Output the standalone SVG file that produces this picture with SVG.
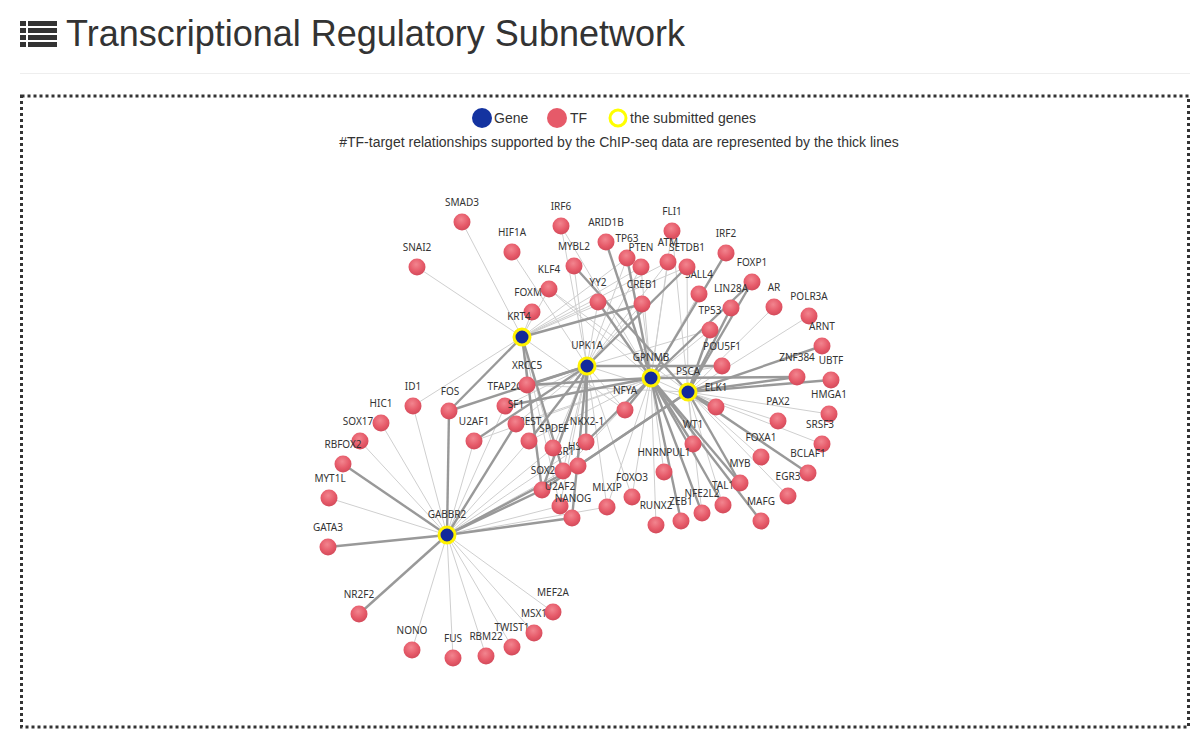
<svg xmlns="http://www.w3.org/2000/svg" width="1198" height="746" viewBox="0 0 1198 746">
<style>
.title{font-family:"Liberation Sans",Arial,sans-serif;font-size:36px;fill:#333}
.leg{font-family:"Liberation Sans",Arial,sans-serif;font-size:14px;fill:#333}
.n{stroke:#cfcfcf;stroke-width:1}
.k{stroke:#999;stroke-width:2.4}
.tf{fill:url(#tfg)}
.gene{fill:#13299b;stroke:#fff200;stroke-width:3}
.lb{font-family:"Noto Sans","Liberation Sans",Arial,sans-serif;font-size:10px;fill:#333;text-anchor:middle}
</style>
<defs>
<radialGradient id="tfg" cx="0.45" cy="0.35" r="0.68">
<stop offset="0" stop-color="#f2858f"/>
<stop offset="0.6" stop-color="#e65a69"/>
<stop offset="1" stop-color="#d04858"/>
</radialGradient>
</defs>
<rect width="1198" height="746" fill="#fff"/>
<g id="header">
<g fill="#333">
<rect x="20" y="21" width="6" height="5"/><rect x="28" y="21" width="29" height="5"/>
<rect x="20" y="28" width="6" height="5"/><rect x="28" y="28" width="29" height="5"/>
<rect x="20" y="35" width="6" height="5"/><rect x="28" y="35" width="29" height="5"/>
<rect x="20" y="42" width="6" height="5"/><rect x="28" y="42" width="29" height="5"/>
</g>
<text class="title" x="66" y="46">Transcriptional Regulatory Subnetwork</text>
<line x1="20" y1="73.5" x2="1190" y2="73.5" stroke="#eee" stroke-width="1"/>
</g>
<rect x="21.5" y="96" width="1167" height="631" fill="none" stroke="#333" stroke-width="3" stroke-dasharray="3 3"/>
<g id="legend">
<circle cx="482" cy="118" r="10" fill="#1433a0"/>
<text class="leg" x="494" y="123">Gene</text>
<circle cx="557" cy="118" r="10" fill="#e65a69"/>
<text class="leg" x="570" y="123">TF</text>
<circle cx="618" cy="118" r="8" fill="#fff" stroke="#ffff00" stroke-width="3"/>
<text class="leg" x="630" y="123">the submitted genes</text>
<text class="leg" x="619" y="147" text-anchor="middle">#TF-target relationships supported by the ChIP-seq data are represented by the thick lines</text>
</g>
<g id="connectors">
<g class="thin">
<line class="n" x1="447" y1="535" x2="329" y2="498"/>
<line class="n" x1="447" y1="535" x2="360" y2="441"/>
<line class="n" x1="447" y1="535" x2="381" y2="423"/>
<line class="n" x1="447" y1="535" x2="413" y2="406"/>
<line class="n" x1="447" y1="535" x2="412" y2="650"/>
<line class="n" x1="447" y1="535" x2="453" y2="658"/>
<line class="n" x1="447" y1="535" x2="486" y2="656"/>
<line class="n" x1="447" y1="535" x2="512" y2="647"/>
<line class="n" x1="447" y1="535" x2="534" y2="633"/>
<line class="n" x1="447" y1="535" x2="553" y2="612"/>
<line class="n" x1="447" y1="535" x2="560" y2="506"/>
<line class="n" x1="447" y1="535" x2="563" y2="471"/>
<line class="n" x1="447" y1="535" x2="529" y2="441"/>
<line class="n" x1="447" y1="535" x2="505" y2="406"/>
<line class="n" x1="447" y1="535" x2="474" y2="441"/>
<line class="n" x1="447" y1="535" x2="553" y2="448"/>
<line class="n" x1="447" y1="535" x2="607" y2="507"/>
<line class="n" x1="447" y1="535" x2="586" y2="442"/>
<line class="n" x1="522" y1="337" x2="462" y2="222"/>
<line class="n" x1="522" y1="337" x2="417" y2="267"/>
<line class="n" x1="522" y1="337" x2="532" y2="312"/>
<line class="n" x1="522" y1="337" x2="413" y2="406"/>
<line class="n" x1="522" y1="337" x2="627" y2="258"/>
<line class="n" x1="522" y1="337" x2="641" y2="267"/>
<line class="n" x1="522" y1="337" x2="668" y2="262"/>
<line class="n" x1="522" y1="337" x2="687" y2="267"/>
<line class="n" x1="522" y1="337" x2="549" y2="289"/>
<line class="n" x1="522" y1="337" x2="598" y2="302"/>
<line class="n" x1="522" y1="337" x2="553" y2="448"/>
<line class="n" x1="522" y1="337" x2="527" y2="385"/>
<line class="n" x1="522" y1="337" x2="625" y2="410"/>
<line class="n" x1="522" y1="337" x2="560" y2="506"/>
<line class="n" x1="587" y1="366" x2="512" y2="252"/>
<line class="n" x1="587" y1="366" x2="561" y2="226"/>
<line class="n" x1="587" y1="366" x2="574" y2="266"/>
<line class="n" x1="587" y1="366" x2="578" y2="466"/>
<line class="n" x1="587" y1="366" x2="516" y2="424"/>
<line class="n" x1="587" y1="366" x2="563" y2="471"/>
<line class="n" x1="587" y1="366" x2="560" y2="506"/>
<line class="n" x1="587" y1="366" x2="627" y2="258"/>
<line class="n" x1="587" y1="366" x2="641" y2="267"/>
<line class="n" x1="587" y1="366" x2="668" y2="262"/>
<line class="n" x1="587" y1="366" x2="632" y2="497"/>
<line class="n" x1="587" y1="366" x2="607" y2="507"/>
<line class="n" x1="587" y1="366" x2="505" y2="406"/>
<line class="n" x1="587" y1="366" x2="625" y2="410"/>
<line class="n" x1="587" y1="366" x2="716" y2="407"/>
<line class="n" x1="587" y1="366" x2="710" y2="330"/>
<line class="n" x1="587" y1="366" x2="642" y2="304"/>
<line class="n" x1="587" y1="366" x2="553" y2="448"/>
<line class="n" x1="587" y1="366" x2="598" y2="302"/>
<line class="n" x1="651" y1="378" x2="710" y2="330"/>
<line class="n" x1="651" y1="378" x2="664" y2="472"/>
<line class="n" x1="651" y1="378" x2="656" y2="525"/>
<line class="n" x1="651" y1="378" x2="632" y2="497"/>
<line class="n" x1="651" y1="378" x2="607" y2="507"/>
<line class="n" x1="651" y1="378" x2="516" y2="424"/>
<line class="n" x1="651" y1="378" x2="529" y2="441"/>
<line class="n" x1="651" y1="378" x2="563" y2="471"/>
<line class="n" x1="651" y1="378" x2="641" y2="267"/>
<line class="n" x1="651" y1="378" x2="668" y2="262"/>
<line class="n" x1="651" y1="378" x2="672" y2="231"/>
<line class="n" x1="651" y1="378" x2="561" y2="226"/>
<line class="n" x1="651" y1="378" x2="642" y2="304"/>
<line class="n" x1="651" y1="378" x2="722" y2="366"/>
<line class="n" x1="651" y1="378" x2="716" y2="407"/>
<line class="n" x1="651" y1="378" x2="549" y2="289"/>
<line class="n" x1="651" y1="378" x2="474" y2="441"/>
<line class="n" x1="651" y1="378" x2="699" y2="294"/>
<line class="n" x1="688" y1="392" x2="549" y2="289"/>
<line class="n" x1="688" y1="392" x2="774" y2="307"/>
<line class="n" x1="688" y1="392" x2="809" y2="316"/>
<line class="n" x1="688" y1="392" x2="829" y2="414"/>
<line class="n" x1="688" y1="392" x2="778" y2="421"/>
<line class="n" x1="688" y1="392" x2="822" y2="444"/>
<line class="n" x1="688" y1="392" x2="693" y2="444"/>
<line class="n" x1="688" y1="392" x2="761" y2="457"/>
<line class="n" x1="688" y1="392" x2="788" y2="496"/>
<line class="n" x1="688" y1="392" x2="687" y2="267"/>
<line class="n" x1="688" y1="392" x2="723" y2="505"/>
<line class="n" x1="688" y1="392" x2="702" y2="513"/>
<line class="n" x1="688" y1="392" x2="672" y2="231"/>
<line class="n" x1="688" y1="392" x2="527" y2="385"/>
</g>
<g class="thick">
<line class="k" x1="447" y1="535" x2="328" y2="547"/>
<line class="k" x1="447" y1="535" x2="343" y2="464"/>
<line class="k" x1="447" y1="535" x2="449" y2="411"/>
<line class="k" x1="447" y1="535" x2="359" y2="614"/>
<line class="k" x1="447" y1="535" x2="572" y2="518"/>
<line class="k" x1="447" y1="535" x2="542" y2="490"/>
<line class="k" x1="447" y1="535" x2="578" y2="466"/>
<line class="k" x1="447" y1="535" x2="516" y2="424"/>
<line class="k" x1="522" y1="337" x2="449" y2="411"/>
<line class="k" x1="522" y1="337" x2="642" y2="304"/>
<line class="k" x1="522" y1="337" x2="563" y2="471"/>
<line class="k" x1="522" y1="337" x2="542" y2="490"/>
<line class="k" x1="587" y1="366" x2="687" y2="267"/>
<line class="k" x1="587" y1="366" x2="527" y2="385"/>
<line class="k" x1="587" y1="366" x2="722" y2="366"/>
<line class="k" x1="587" y1="366" x2="586" y2="442"/>
<line class="k" x1="587" y1="366" x2="572" y2="518"/>
<line class="k" x1="587" y1="366" x2="449" y2="411"/>
<line class="k" x1="587" y1="366" x2="474" y2="441"/>
<line class="k" x1="587" y1="366" x2="529" y2="441"/>
<line class="k" x1="587" y1="366" x2="542" y2="490"/>
<line class="k" x1="651" y1="378" x2="606" y2="242"/>
<line class="k" x1="651" y1="378" x2="598" y2="302"/>
<line class="k" x1="651" y1="378" x2="726" y2="253"/>
<line class="k" x1="651" y1="378" x2="752" y2="282"/>
<line class="k" x1="651" y1="378" x2="797" y2="377"/>
<line class="k" x1="651" y1="378" x2="625" y2="410"/>
<line class="k" x1="651" y1="378" x2="693" y2="444"/>
<line class="k" x1="651" y1="378" x2="681" y2="521"/>
<line class="k" x1="651" y1="378" x2="702" y2="513"/>
<line class="k" x1="651" y1="378" x2="723" y2="505"/>
<line class="k" x1="651" y1="378" x2="761" y2="521"/>
<line class="k" x1="651" y1="378" x2="740" y2="483"/>
<line class="k" x1="651" y1="378" x2="586" y2="442"/>
<line class="k" x1="651" y1="378" x2="505" y2="406"/>
<line class="k" x1="651" y1="378" x2="527" y2="385"/>
<line class="k" x1="651" y1="378" x2="627" y2="258"/>
<line class="k" x1="688" y1="392" x2="574" y2="266"/>
<line class="k" x1="688" y1="392" x2="752" y2="282"/>
<line class="k" x1="688" y1="392" x2="731" y2="308"/>
<line class="k" x1="688" y1="392" x2="822" y2="346"/>
<line class="k" x1="688" y1="392" x2="797" y2="377"/>
<line class="k" x1="688" y1="392" x2="831" y2="380"/>
<line class="k" x1="688" y1="392" x2="716" y2="407"/>
<line class="k" x1="688" y1="392" x2="808" y2="473"/>
<line class="k" x1="688" y1="392" x2="740" y2="483"/>
<line class="k" x1="688" y1="392" x2="578" y2="466"/>
<line class="k" x1="688" y1="392" x2="542" y2="490"/>
<line class="k" x1="688" y1="392" x2="710" y2="330"/>
</g>
</g>
<g id="nodes">
<g id="n-SMAD3"><circle class="tf" cx="462" cy="222" r="8.5"/><text class="lb" x="462" y="206">SMAD3</text></g>
<g id="n-SNAI2"><circle class="tf" cx="417" cy="267" r="8.5"/><text class="lb" x="417" y="251">SNAI2</text></g>
<g id="n-HIF1A"><circle class="tf" cx="512" cy="252" r="8.5"/><text class="lb" x="512" y="236">HIF1A</text></g>
<g id="n-IRF6"><circle class="tf" cx="561" cy="226" r="8.5"/><text class="lb" x="561" y="210">IRF6</text></g>
<g id="n-ARID1B"><circle class="tf" cx="606" cy="242" r="8.5"/><text class="lb" x="606" y="226">ARID1B</text></g>
<g id="n-MYBL2"><circle class="tf" cx="574" cy="266" r="8.5"/><text class="lb" x="574" y="250">MYBL2</text></g>
<g id="n-FOXM1"><circle class="tf" cx="532" cy="312" r="8.5"/><text class="lb" x="531" y="296">FOXM1</text></g>
<g id="n-KLF4"><circle class="tf" cx="549" cy="289" r="8.5"/><text class="lb" x="549" y="273">KLF4</text></g>
<g id="n-YY2"><circle class="tf" cx="598" cy="302" r="8.5"/><text class="lb" x="598" y="286">YY2</text></g>
<g id="n-FLI1"><circle class="tf" cx="672" cy="231" r="8.5"/><text class="lb" x="672" y="215">FLI1</text></g>
<g id="n-TP63"><circle class="tf" cx="627" cy="258" r="8.5"/><text class="lb" x="627" y="242">TP63</text></g>
<g id="n-PTEN"><circle class="tf" cx="641" cy="267" r="8.5"/><text class="lb" x="641" y="251">PTEN</text></g>
<g id="n-ATM"><circle class="tf" cx="668" cy="262" r="8.5"/><text class="lb" x="668" y="246">ATM</text></g>
<g id="n-SALL4"><text class="lb" x="699" y="278">SALL4</text><circle class="tf" cx="699" cy="294" r="8.5"/></g>
<g id="n-SETDB1"><circle class="tf" cx="687" cy="267" r="8.5"/><text class="lb" x="687" y="251">SETDB1</text></g>
<g id="n-IRF2"><circle class="tf" cx="726" cy="253" r="8.5"/><text class="lb" x="726" y="237">IRF2</text></g>
<g id="n-CREB1"><circle class="tf" cx="642" cy="304" r="8.5"/><text class="lb" x="642" y="288">CREB1</text></g>
<g id="n-FOXP1"><circle class="tf" cx="752" cy="282" r="8.5"/><text class="lb" x="752" y="266">FOXP1</text></g>
<g id="n-LIN28A"><circle class="tf" cx="731" cy="308" r="8.5"/><text class="lb" x="731" y="292">LIN28A</text></g>
<g id="n-AR"><circle class="tf" cx="774" cy="307" r="8.5"/><text class="lb" x="774" y="291">AR</text></g>
<g id="n-POLR3A"><circle class="tf" cx="809" cy="316" r="8.5"/><text class="lb" x="809" y="300">POLR3A</text></g>
<g id="n-TP53"><circle class="tf" cx="710" cy="330" r="8.5"/><text class="lb" x="710" y="314">TP53</text></g>
<g id="n-ARNT"><circle class="tf" cx="822" cy="346" r="8.5"/><text class="lb" x="822" y="330">ARNT</text></g>
<g id="n-POU5F1"><circle class="tf" cx="722" cy="366" r="8.5"/><text class="lb" x="722" y="350">POU5F1</text></g>
<g id="n-ZNF384"><circle class="tf" cx="797" cy="377" r="8.5"/><text class="lb" x="797" y="361">ZNF384</text></g>
<g id="n-UBTF"><circle class="tf" cx="831" cy="380" r="8.5"/><text class="lb" x="831" y="364">UBTF</text></g>
<g id="n-HMGA1"><circle class="tf" cx="829" cy="414" r="8.5"/><text class="lb" x="829" y="398">HMGA1</text></g>
<g id="n-ELK1"><circle class="tf" cx="716" cy="407" r="8.5"/><text class="lb" x="716" y="391">ELK1</text></g>
<g id="n-PAX2"><circle class="tf" cx="778" cy="421" r="8.5"/><text class="lb" x="778" y="405">PAX2</text></g>
<g id="n-SRSF3"><circle class="tf" cx="822" cy="444" r="8.5"/><text class="lb" x="820" y="428">SRSF3</text></g>
<g id="n-WT1"><circle class="tf" cx="693" cy="444" r="8.5"/><text class="lb" x="693" y="428">WT1</text></g>
<g id="n-FOXA1"><circle class="tf" cx="761" cy="457" r="8.5"/><text class="lb" x="761" y="441">FOXA1</text></g>
<g id="n-BCLAF1"><circle class="tf" cx="808" cy="473" r="8.5"/><text class="lb" x="808" y="457">BCLAF1</text></g>
<g id="n-HNRNPUL1"><circle class="tf" cx="664" cy="472" r="8.5"/><text class="lb" x="664" y="456">HNRNPUL1</text></g>
<g id="n-TAL1"><text class="lb" x="723" y="489">TAL1</text><circle class="tf" cx="723" cy="505" r="8.5"/></g>
<g id="n-MYB"><circle class="tf" cx="740" cy="483" r="8.5"/><text class="lb" x="740" y="467">MYB</text></g>
<g id="n-EGR3"><circle class="tf" cx="788" cy="496" r="8.5"/><text class="lb" x="788" y="480">EGR3</text></g>
<g id="n-NFE2L2"><circle class="tf" cx="702" cy="513" r="8.5"/><text class="lb" x="702" y="497">NFE2L2</text></g>
<g id="n-MAFG"><circle class="tf" cx="761" cy="521" r="8.5"/><text class="lb" x="761" y="505">MAFG</text></g>
<g id="n-ZEB1"><text class="lb" x="681" y="505">ZEB1</text><circle class="tf" cx="681" cy="521" r="8.5"/></g>
<g id="n-RUNX2"><circle class="tf" cx="656" cy="525" r="8.5"/><text class="lb" x="656" y="509">RUNX2</text></g>
<g id="n-FOXO3"><circle class="tf" cx="632" cy="497" r="8.5"/><text class="lb" x="632" y="481">FOXO3</text></g>
<g id="n-MLXIP"><circle class="tf" cx="607" cy="507" r="8.5"/><text class="lb" x="607" y="491">MLXIP</text></g>
<g id="n-TFAP2C"><text class="lb" x="505" y="390">TFAP2C</text><circle class="tf" cx="505" cy="406" r="8.5"/></g>
<g id="n-XRCC5"><circle class="tf" cx="527" cy="385" r="8.5"/><text class="lb" x="527" y="369">XRCC5</text></g>
<g id="n-REST"><text class="lb" x="530" y="425">REST</text><circle class="tf" cx="529" cy="441" r="8.5"/></g>
<g id="n-SF1"><circle class="tf" cx="516" cy="424" r="8.5"/><text class="lb" x="516" y="408">SF1</text></g>
<g id="n-ESR1"><text class="lb" x="563" y="455">ESR1</text><circle class="tf" cx="563" cy="471" r="8.5"/></g>
<g id="n-SPDEF"><circle class="tf" cx="553" cy="448" r="8.5"/><text class="lb" x="554" y="432">SPDEF</text></g>
<g id="n-HSF1"><text class="lb" x="580" y="450">HSF1</text><circle class="tf" cx="578" cy="466" r="8.5"/></g>
<g id="n-NKX2-1"><circle class="tf" cx="586" cy="442" r="8.5"/><text class="lb" x="587" y="425">NKX2-1</text></g>
<g id="n-SOX2"><text class="lb" x="543" y="474">SOX2</text><circle class="tf" cx="542" cy="490" r="8.5"/></g>
<g id="n-U2AF2"><text class="lb" x="560" y="490">U2AF2</text><circle class="tf" cx="560" cy="506" r="8.5"/></g>
<g id="n-NANOG"><text class="lb" x="573" y="502">NANOG</text><circle class="tf" cx="572" cy="518" r="8.5"/></g>
<g id="n-NFYA"><circle class="tf" cx="625" cy="410" r="8.5"/><text class="lb" x="625" y="394">NFYA</text></g>
<g id="n-FOS"><circle class="tf" cx="449" cy="411" r="8.5"/><text class="lb" x="450" y="395">FOS</text></g>
<g id="n-U2AF1"><circle class="tf" cx="474" cy="441" r="8.5"/><text class="lb" x="474" y="425">U2AF1</text></g>
<g id="n-ID1"><circle class="tf" cx="413" cy="406" r="8.5"/><text class="lb" x="413" y="390">ID1</text></g>
<g id="n-HIC1"><circle class="tf" cx="381" cy="423" r="8.5"/><text class="lb" x="381" y="407">HIC1</text></g>
<g id="n-SOX17"><circle class="tf" cx="360" cy="441" r="8.5"/><text class="lb" x="358" y="425">SOX17</text></g>
<g id="n-RBFOX2"><circle class="tf" cx="343" cy="464" r="8.5"/><text class="lb" x="343" y="448">RBFOX2</text></g>
<g id="n-MYT1L"><circle class="tf" cx="329" cy="498" r="8.5"/><text class="lb" x="330" y="482">MYT1L</text></g>
<g id="n-GATA3"><circle class="tf" cx="328" cy="547" r="8.5"/><text class="lb" x="328" y="531">GATA3</text></g>
<g id="n-NR2F2"><circle class="tf" cx="359" cy="614" r="8.5"/><text class="lb" x="359" y="598">NR2F2</text></g>
<g id="n-NONO"><circle class="tf" cx="412" cy="650" r="8.5"/><text class="lb" x="412" y="634">NONO</text></g>
<g id="n-FUS"><circle class="tf" cx="453" cy="658" r="8.5"/><text class="lb" x="453" y="642">FUS</text></g>
<g id="n-RBM22"><circle class="tf" cx="486" cy="656" r="8.5"/><text class="lb" x="486" y="640">RBM22</text></g>
<g id="n-TWIST1"><circle class="tf" cx="512" cy="647" r="8.5"/><text class="lb" x="512" y="631">TWIST1</text></g>
<g id="n-MSX1"><circle class="tf" cx="534" cy="633" r="8.5"/><text class="lb" x="534" y="617">MSX1</text></g>
<g id="n-MEF2A"><circle class="tf" cx="553" cy="612" r="8.5"/><text class="lb" x="553" y="596">MEF2A</text></g>
<g id="n-KRT4"><circle class="gene" cx="522" cy="337" r="8"/><text class="lb" x="519" y="320">KRT4</text></g>
<g id="n-UPK1A"><circle class="gene" cx="587" cy="366" r="8"/><text class="lb" x="587" y="349">UPK1A</text></g>
<g id="n-GPNMB"><circle class="gene" cx="651" cy="378" r="8"/><text class="lb" x="651" y="361">GPNMB</text></g>
<g id="n-PSCA"><circle class="gene" cx="688" cy="392" r="8"/><text class="lb" x="688" y="375">PSCA</text></g>
<g id="n-GABBR2"><circle class="gene" cx="447" cy="535" r="8"/><text class="lb" x="447" y="518">GABBR2</text></g>
</g>
</svg>
